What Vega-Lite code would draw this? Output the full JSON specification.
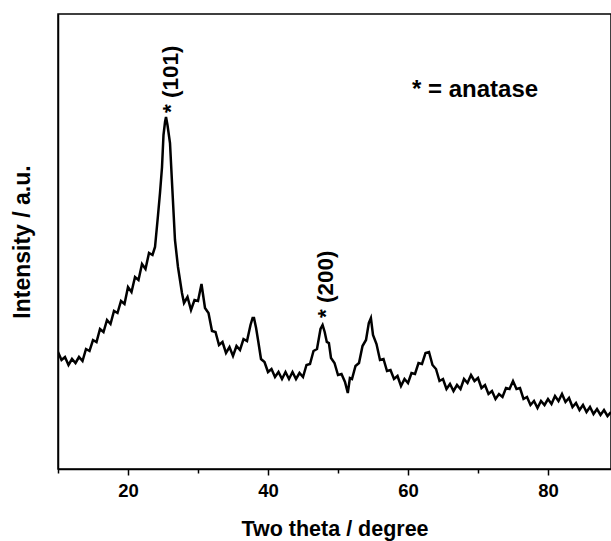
{
  "$schema": "https://vega.github.io/schema/vega-lite/v6.json",
  "width": 553,
  "height": 455,
  "autosize": {"type": "none"},
  "padding": {"left": 58, "top": 14, "right": 0, "bottom": 72},
  "background": "white",
  "config": {
    "view": {"stroke": "black", "strokeWidth": 1.5},
    "axis": {"grid": false, "domainColor": "black", "domainWidth": 1.5, "tickColor": "black", "tickWidth": 1.5, "labelColor": "black", "titleColor": "black", "labelFont": "Liberation Sans", "titleFont": "Liberation Sans"}
  },
  "layer": [
    {
      "data": {"values": [
        {"t": 10.0, "i": 117}, {"t": 10.5, "i": 109}, {"t": 11.0, "i": 112}, {"t": 11.5, "i": 104}, {"t": 12.0, "i": 110},
        {"t": 12.5, "i": 106}, {"t": 13.0, "i": 112}, {"t": 13.5, "i": 108}, {"t": 14.0, "i": 120}, {"t": 14.5, "i": 118},
        {"t": 15.0, "i": 129}, {"t": 15.5, "i": 127}, {"t": 16.0, "i": 140}, {"t": 16.5, "i": 137}, {"t": 17.0, "i": 149},
        {"t": 17.5, "i": 145}, {"t": 18.0, "i": 158}, {"t": 18.5, "i": 156}, {"t": 19.0, "i": 168}, {"t": 19.5, "i": 165},
        {"t": 20.0, "i": 182}, {"t": 20.5, "i": 177}, {"t": 21.0, "i": 192}, {"t": 21.5, "i": 189}, {"t": 22.0, "i": 205},
        {"t": 22.5, "i": 200}, {"t": 23.0, "i": 216}, {"t": 23.5, "i": 214}, {"t": 23.86, "i": 222}, {"t": 24.29, "i": 254},
        {"t": 24.57, "i": 276}, {"t": 24.86, "i": 302}, {"t": 25.07, "i": 334}, {"t": 25.29, "i": 347}, {"t": 25.43, "i": 352},
        {"t": 25.64, "i": 344}, {"t": 26.0, "i": 326}, {"t": 26.29, "i": 286}, {"t": 26.71, "i": 229}, {"t": 27.14, "i": 202},
        {"t": 27.71, "i": 176}, {"t": 28.0, "i": 166}, {"t": 28.5, "i": 172}, {"t": 29.0, "i": 159}, {"t": 29.5, "i": 169},
        {"t": 30.0, "i": 168}, {"t": 30.5, "i": 185}, {"t": 31.0, "i": 161}, {"t": 31.5, "i": 156}, {"t": 32.0, "i": 138},
        {"t": 32.5, "i": 137}, {"t": 33.0, "i": 124}, {"t": 33.5, "i": 127}, {"t": 34.0, "i": 116}, {"t": 34.5, "i": 122},
        {"t": 35.0, "i": 113}, {"t": 35.5, "i": 123}, {"t": 36.0, "i": 119}, {"t": 36.5, "i": 130}, {"t": 37.0, "i": 128},
        {"t": 37.5, "i": 144}, {"t": 37.8, "i": 151}, {"t": 38.0, "i": 151}, {"t": 38.3, "i": 141}, {"t": 38.6, "i": 128},
        {"t": 39.0, "i": 110}, {"t": 39.5, "i": 107}, {"t": 40.0, "i": 97}, {"t": 40.5, "i": 100}, {"t": 41.0, "i": 92},
        {"t": 41.5, "i": 97}, {"t": 42.0, "i": 90}, {"t": 42.5, "i": 97}, {"t": 43.0, "i": 90}, {"t": 43.5, "i": 97},
        {"t": 44.0, "i": 90}, {"t": 44.5, "i": 96}, {"t": 45.0, "i": 92}, {"t": 45.5, "i": 104}, {"t": 46.0, "i": 105},
        {"t": 46.5, "i": 118}, {"t": 47.0, "i": 120}, {"t": 47.5, "i": 140}, {"t": 47.8, "i": 144}, {"t": 48.1, "i": 137},
        {"t": 48.4, "i": 127}, {"t": 48.7, "i": 126}, {"t": 49.0, "i": 111}, {"t": 49.5, "i": 106}, {"t": 50.0, "i": 94},
        {"t": 50.5, "i": 95}, {"t": 51.0, "i": 87}, {"t": 51.4, "i": 76}, {"t": 51.7, "i": 91}, {"t": 52.0, "i": 90},
        {"t": 52.5, "i": 103}, {"t": 53.0, "i": 106}, {"t": 53.5, "i": 123}, {"t": 54.0, "i": 129}, {"t": 54.4, "i": 146},
        {"t": 54.7, "i": 151}, {"t": 55.0, "i": 134}, {"t": 55.5, "i": 125}, {"t": 56.0, "i": 109}, {"t": 56.5, "i": 110},
        {"t": 57.0, "i": 98}, {"t": 57.5, "i": 99}, {"t": 58.0, "i": 90}, {"t": 58.5, "i": 93}, {"t": 59.0, "i": 83},
        {"t": 59.5, "i": 90}, {"t": 60.0, "i": 86}, {"t": 60.5, "i": 96}, {"t": 61.0, "i": 95}, {"t": 61.5, "i": 106},
        {"t": 62.0, "i": 105}, {"t": 62.5, "i": 116}, {"t": 63.0, "i": 117}, {"t": 63.5, "i": 104}, {"t": 64.0, "i": 100},
        {"t": 64.5, "i": 88}, {"t": 65.0, "i": 90}, {"t": 65.5, "i": 80}, {"t": 66.0, "i": 85}, {"t": 66.5, "i": 78},
        {"t": 67.0, "i": 84}, {"t": 67.5, "i": 80}, {"t": 68.0, "i": 90}, {"t": 68.5, "i": 86}, {"t": 69.0, "i": 94},
        {"t": 69.5, "i": 88}, {"t": 70.0, "i": 91}, {"t": 70.5, "i": 81}, {"t": 71.0, "i": 84}, {"t": 71.5, "i": 75},
        {"t": 72.0, "i": 78}, {"t": 72.5, "i": 70}, {"t": 73.0, "i": 75}, {"t": 73.5, "i": 72}, {"t": 74.0, "i": 81},
        {"t": 74.5, "i": 80}, {"t": 75.0, "i": 88}, {"t": 75.5, "i": 80}, {"t": 76.0, "i": 81}, {"t": 76.5, "i": 70},
        {"t": 77.0, "i": 72}, {"t": 77.5, "i": 64}, {"t": 78.0, "i": 68}, {"t": 78.5, "i": 61}, {"t": 79.0, "i": 68},
        {"t": 79.5, "i": 64}, {"t": 80.0, "i": 70}, {"t": 80.5, "i": 65}, {"t": 81.0, "i": 73}, {"t": 81.5, "i": 68},
        {"t": 82.0, "i": 75}, {"t": 82.5, "i": 67}, {"t": 83.0, "i": 71}, {"t": 83.5, "i": 62}, {"t": 84.0, "i": 66},
        {"t": 84.5, "i": 59}, {"t": 85.0, "i": 64}, {"t": 85.5, "i": 57}, {"t": 86.0, "i": 62}, {"t": 86.5, "i": 55},
        {"t": 87.0, "i": 60}, {"t": 87.5, "i": 54}, {"t": 88.0, "i": 59}, {"t": 88.5, "i": 53}, {"t": 89.0, "i": 57}
      ]},
      "mark": {"type": "line", "color": "black", "strokeWidth": 2.5, "clip": true},
      "encoding": {
        "x": {
          "field": "t", "type": "quantitative",
          "scale": {"domain": [10, 89], "nice": false},
          "axis": {
            "title": "Two theta / degree",
            "titleFontSize": 21.5, "titleFontWeight": "bold", "titlePadding": 19,
            "values": [10, 20, 30, 40, 50, 60, 70, 80],
            "labelExpr": "datum.value % 20 == 0 ? datum.label : ''",
            "labelFontSize": 18.5, "labelFontWeight": "bold", "labelPadding": 6,
            "tickSize": {"condition": {"test": "datum.value % 20 == 0", "value": 6}, "value": 4}
          }
        },
        "y": {
          "field": "i", "type": "quantitative",
          "scale": {"domain": [0, 455], "nice": false},
          "axis": {
            "title": "Intensity / a.u.",
            "titleFontSize": 23, "titleFontWeight": "bold", "titlePadding": 24,
            "labels": false, "ticks": false
          }
        }
      }
    },
    {
      "data": {"values": [
        {"t": 26.1, "i": 356, "label": "* (101)"},
        {"t": 48.3, "i": 151, "label": "* (200)"}
      ]},
      "mark": {"type": "text", "angle": 270, "align": "left", "baseline": "middle", "fontSize": 22.5, "fontWeight": "bold", "font": "Liberation Sans", "color": "black"},
      "encoding": {
        "x": {"field": "t", "type": "quantitative"},
        "y": {"field": "i", "type": "quantitative"},
        "text": {"field": "label"}
      }
    },
    {
      "data": {"values": [
        {"t": 60.57, "i": 372, "label": "* = anatase"}
      ]},
      "mark": {"type": "text", "align": "left", "baseline": "alphabetic", "fontSize": 24, "fontWeight": "bold", "font": "Liberation Sans", "color": "black"},
      "encoding": {
        "x": {"field": "t", "type": "quantitative"},
        "y": {"field": "i", "type": "quantitative"},
        "text": {"field": "label"}
      }
    }
  ]
}
